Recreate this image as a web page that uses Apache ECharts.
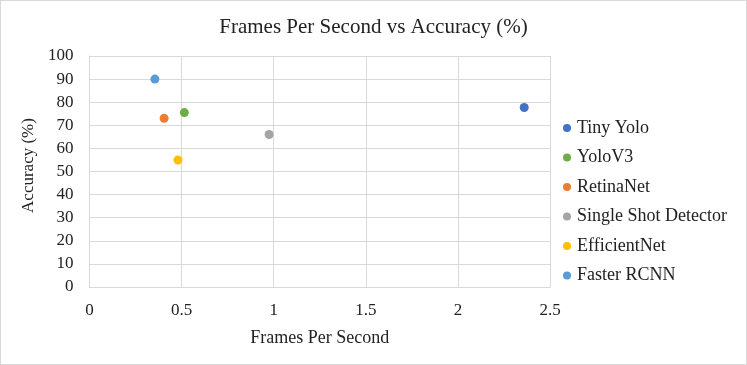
<!DOCTYPE html>
<html>
<head>
<meta charset="utf-8">
<script src="https://cdn.jsdelivr.net/npm/echarts@6/dist/echarts.min.js"></script>
<style>
  html, body { margin: 0; padding: 0; background: #fff; }
  #main { width: 745px; height: 363px; border: 1px solid #d9d9d9; }
</style>
</head>
<body>
<div id="main"></div>
<script>
const names = ['Tiny Yolo', 'YoloV3', 'RetinaNet', 'Single Shot Detector', 'EfficientNet', 'Faster RCNN'];
const fps = [2.36, 0.515, 0.405, 0.975, 0.48, 0.355];
const accuracy = [77.7, 75.5, 73, 66, 55, 90];
const colors = ['#4472C4', '#70AD47', '#ED7D31', '#A5A5A5', '#FFC000', '#5B9BD5'];

const font = 'Liberation Serif, Times New Roman, serif';
const chart = echarts.init(document.getElementById('main'));

const series = names.map((name, i) => ({
  name: name,
  type: 'scatter',
  symbol: 'circle',
  symbolSize: 9,
  itemStyle: { color: colors[i], opacity: 1 },
  data: [[fps[i], accuracy[i]]]
}));

chart.setOption({
  animation: false,
  textStyle: { fontFamily: font },
  title: {
    text: 'Frames Per Second vs Accuracy (%)',
    left: 'center',
    top: 11,
    textStyle: { fontFamily: font, fontSize: 21, fontWeight: 'normal', color: '#222' }
  },
  grid: { left: 88.5, right: 196, top: 55, bottom: 77 },
  legend: {
    orient: 'vertical',
    left: 557,
    top: 113,
    itemGap: 11.5,
    itemWidth: 8,
    itemHeight: 8,
    icon: 'circle',
    textStyle: { fontFamily: font, fontSize: 18, color: '#222', padding: [0, 0, 0, 1] },
    data: names
  },
  xAxis: {
    type: 'value',
    min: 0,
    max: 2.5,
    interval: 0.5,
    name: 'Frames Per Second',
    nameLocation: 'middle',
    nameGap: 42,
    nameTextStyle: { fontFamily: font, fontSize: 18, color: '#222' },
    axisLine: { show: true, lineStyle: { color: '#d9d9d9' } },
    axisTick: { show: false },
    axisLabel: { fontFamily: font, fontSize: 17, color: '#222', margin: 15 },
    splitLine: { show: true, lineStyle: { color: '#d9d9d9' } }
  },
  yAxis: {
    type: 'value',
    min: 0,
    max: 100,
    interval: 10,
    name: 'Accuracy (%)',
    nameLocation: 'middle',
    nameGap: 52,
    nameTextStyle: { fontFamily: font, fontSize: 17, color: '#222', padding: [0, 0, 0, 12] },
    axisLine: { show: true, lineStyle: { color: '#d9d9d9' } },
    axisTick: { show: false },
    axisLabel: { fontFamily: font, fontSize: 17, color: '#222', margin: 16 },
    splitLine: { show: true, lineStyle: { color: '#d9d9d9' } }
  },
  series: series
});
</script>
</body>
</html>
